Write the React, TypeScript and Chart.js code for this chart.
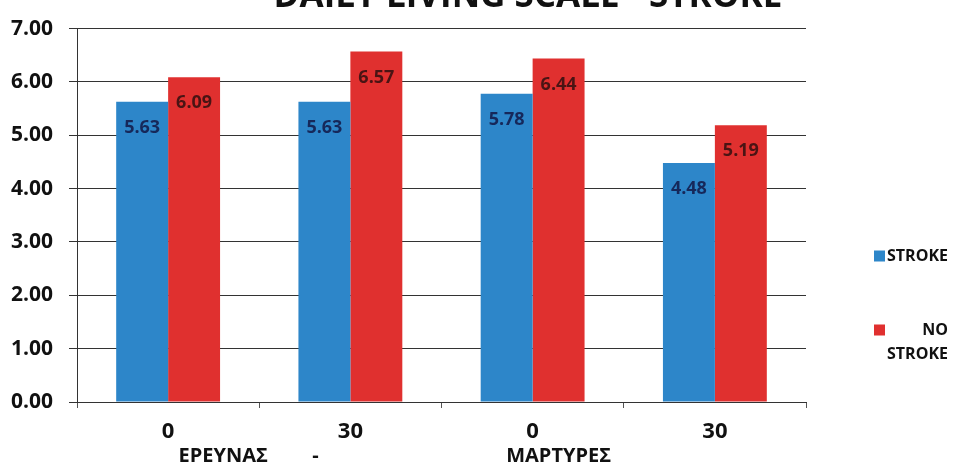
import React, { useEffect, useRef } from "react";
import { Chart, registerables } from "chart.js";

Chart.register(...registerables);

const TITLE = "DAILY LIVING SCALE - STROKE";
const CATEGORIES = ["0", "30", "0", "30"];
const GROUP_LABELS = ["ΕΡΕΥΝΑΣ", "-", "ΜΑΡΤΥΡΕΣ", ""];
const SERIES_NAMES = ["STROKE", "NO STROKE"];
const LEGEND_LINES = [["STROKE"], ["NO", "STROKE"]];
const STROKE_VALUES = [5.63, 5.63, 5.78, 4.48];
const NO_STROKE_VALUES = [6.09, 6.57, 6.44, 5.19];
const Y_MIN = 0;
const Y_MAX = 7;
const Y_STEP = 1;

const BLUE = "#2d86c9";
const RED = "#e0302f";
const BLUE_TEXT = "#16285a";
const RED_TEXT = "#4a1414";
const FONT = "'Open Sans', 'DejaVu Sans', sans-serif";
// horizontal nudges (px) of the second-tier labels relative to their category centre
const GROUP_SHIFT = [55, -35, 26, 0];

const titlePlugin = {
  id: "topTitle",
  afterDraw(chart: any) {
    const ctx = chart.ctx;
    ctx.save();
    ctx.font = `bold 35px ${FONT}`;
    ctx.fillStyle = "#111";
    ctx.textAlign = "center";
    ctx.textBaseline = "alphabetic";
    ctx.fillText(TITLE, 528, 7);
    ctx.restore();
  },
};

const groupLabelPlugin = {
  id: "groupLabels",
  afterDraw(chart: any) {
    const ctx = chart.ctx;
    const xs = chart.scales.x;
    ctx.save();
    ctx.font = `bold 20px ${FONT}`;
    ctx.fillStyle = "#111";
    ctx.textAlign = "center";
    ctx.textBaseline = "middle";
    GROUP_LABELS.forEach((t, i) => {
      if (!t) return;
      ctx.fillText(t, xs.getPixelForValue(i) + GROUP_SHIFT[i], 456);
    });
    ctx.restore();
  },
};

const valueLabelPlugin = {
  id: "valueLabels",
  afterDatasetsDraw(chart: any) {
    const ctx = chart.ctx;
    ctx.save();
    ctx.font = `bold 18px ${FONT}`;
    ctx.textAlign = "center";
    ctx.textBaseline = "middle";
    chart.data.datasets.forEach((ds: any, di: number) => {
      const meta = chart.getDatasetMeta(di);
      ctx.fillStyle = di === 0 ? BLUE_TEXT : RED_TEXT;
      meta.data.forEach((el: any, i: number) => {
        const v = ds.data[i] as number;
        ctx.fillText(v.toFixed(2), el.x, el.y + 26);
      });
    });
    ctx.restore();
  },
};

const legendPlugin = {
  id: "sideLegend",
  afterDraw(chart: any) {
    const ctx = chart.ctx;
    ctx.save();
    ctx.font = `bold 16px ${FONT}`;
    ctx.textBaseline = "middle";
    const right = 948;
    const boxX = 874;
    const starts = [256, 330];
    chart.data.datasets.forEach((ds: any, di: number) => {
      const y0 = starts[di];
      ctx.fillStyle = ds.backgroundColor;
      ctx.fillRect(boxX, y0 - 5.5, 11, 11);
      ctx.fillStyle = "#111";
      ctx.textAlign = "right";
      LEGEND_LINES[di].forEach((line, li) => {
        ctx.fillText(line, right, y0 + li * 24);
      });
    });
    ctx.restore();
  },
};

export default function App() {
  const canvasRef = useRef<HTMLCanvasElement | null>(null);

  useEffect(() => {
    document.body.style.margin = "0";
    const canvas = canvasRef.current;
    if (!canvas) return;
    const chart = new Chart(canvas, {
      type: "bar",
      data: {
        labels: CATEGORIES,
        datasets: [
          {
            label: SERIES_NAMES[0],
            data: STROKE_VALUES,
            backgroundColor: BLUE,
            borderWidth: 0,
            categoryPercentage: 0.57,
            barPercentage: 1.0,
          },
          {
            label: SERIES_NAMES[1],
            data: NO_STROKE_VALUES,
            backgroundColor: RED,
            borderWidth: 0,
            categoryPercentage: 0.57,
            barPercentage: 1.0,
          },
        ],
      },
      options: {
        responsive: true,
        maintainAspectRatio: false,
        animation: false,
        layout: { padding: { top: 21, right: 153, left: 0, bottom: 0 } },
        plugins: {
          legend: { display: false },
          title: { display: false },
          tooltip: { enabled: false },
        },
        scales: {
          x: {
            type: "category",
            position: "bottom",
            offset: true,
            grid: {
              offset: true,
              drawOnChartArea: false,
              drawTicks: true,
              tickLength: 6,
              color: "#555",
            },
            border: { display: true, color: "#333" },
            ticks: {
              color: "#111",
              font: { family: FONT, size: 22, weight: "bold" },
              padding: 11,
              maxRotation: 0,
            },
            afterFit(scale: any) {
              scale.height = 66;
            },
          },
          y: {
            min: Y_MIN,
            max: Y_MAX,
            ticks: {
              stepSize: Y_STEP,
              color: "#111",
              font: { family: FONT, size: 21, weight: "bold" },
              padding: 16,
              callback: (v: any) => Number(v).toFixed(2),
            },
            grid: { color: "#333", lineWidth: 1, tickLength: 8 },
            border: { display: true, color: "#333" },
            afterFit(scale: any) {
              scale.width = 77;
            },
          },
        },
      },
      plugins: [titlePlugin, valueLabelPlugin, groupLabelPlugin, legendPlugin],
    });
    return () => chart.destroy();
  }, []);

  return (
    <div style={{ position: "relative", width: 959, height: 468, background: "#fff" }}>
      <canvas ref={canvasRef} />
    </div>
  );
}
